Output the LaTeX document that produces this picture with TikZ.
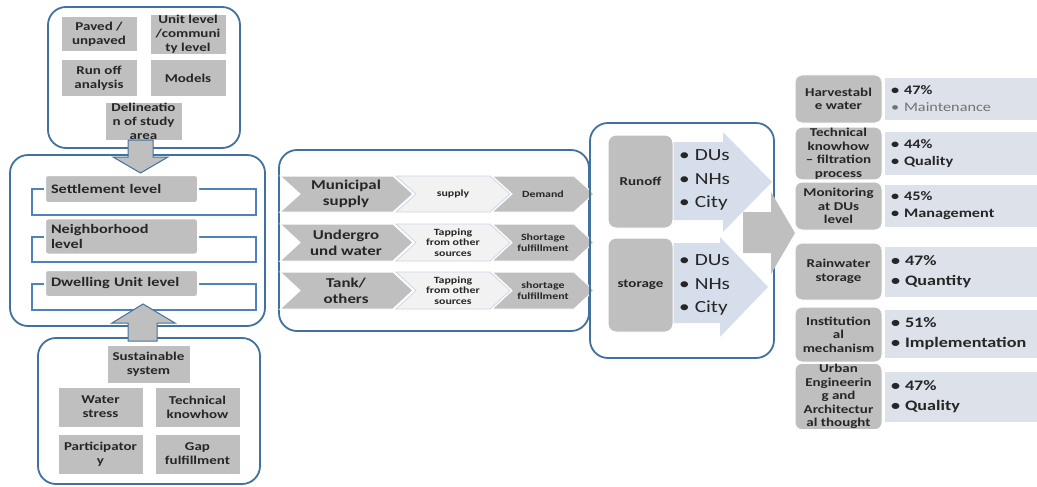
\documentclass[tikz,border=0pt]{standalone}
\usepackage{fontspec}
\setmainfont{Carlito}[FakeStretch=1.25]
\usetikzlibrary{positioning,calc}

\definecolor{frameblue}{RGB}{65,113,156}
\definecolor{lineblue}{RGB}{79,129,189}
\definecolor{boxgray}{RGB}{191,191,191}
\definecolor{chevpale}{RGB}{242,242,242}
\definecolor{chevedge}{RGB}{205,215,232}
\definecolor{flowblue}{RGB}{214,222,236}
\definecolor{notegray}{RGB}{220,225,234}
\definecolor{inkdark}{RGB}{38,38,38}

% chevron: left x, tip x, top y, bottom y, style
\newcommand{\chevron}[5]{%
  \filldraw[#5] (#1,#3) -- ({#2-20},#3) -- (#2,{(#3+#4)/2}) -- ({#2-20},#4)
    -- (#1,#4) -- ({#1+20},{(#3+#4)/2}) -- cycle;}
\newcommand{\bl}{\textbullet\hspace{5pt}}

\begin{document}
\begin{tikzpicture}[x=1pt, y=-1pt, text=inkdark,
  frame/.style={draw=frameblue, line width=1.8pt, rounded corners=18pt},
  sz/.style 2 args={minimum width=#1pt, minimum height=#2pt},
  gbox/.style={fill=boxgray, draw=white, line width=1pt, inner sep=1pt, align=center, font=\bfseries\fontsize{12}{14}\selectfont},
  lvl/.style={fill=boxgray, draw=white, line width=2pt, rounded corners=3pt, align=left, text width=141pt, inner sep=6pt, font=\bfseries\fontsize{13}{15}\selectfont},
  bracket/.style={draw=lineblue, line width=1.4pt},
  blockarrow/.style={fill=boxgray, draw=frameblue, line width=1pt},
  darkchev/.style={fill=boxgray, draw=white, line width=1pt},
  palechev/.style={fill=chevpale, draw=chevedge, line width=0.8pt},
  chevtxt/.style={align=center, inner sep=0pt, font=\bfseries\fontsize{13.5}{16}\selectfont},
  chevsmall/.style={align=center, inner sep=0pt, font=\bfseries\fontsize{9.5}{10.5}\selectfont},
  flowlist/.style={anchor=west, align=left, inner sep=0pt, font=\fontsize{17}{23.5}\selectfont},
  kind/.style={fill=boxgray, draw=white, line width=1pt, rounded corners=8pt, align=center, inner sep=1pt, font=\bfseries\fontsize{12}{14}\selectfont},
  topic/.style={fill=boxgray, draw=white, line width=1pt, rounded corners=7pt, align=center, inner sep=1pt, minimum width=87pt, font=\bfseries\fontsize{12}{13.5}\selectfont},
  note/.style={fill=notegray, align=left, text width=140pt, inner sep=6pt, minimum width=152pt},
  smallnote/.style={note, font=\bfseries\fontsize{13}{17}\selectfont},
  bignote/.style={note, font=\bfseries\fontsize{14.5}{20}\selectfont}]
\useasboundingbox (0,0) rectangle (1037,487);

% left column
\node[frame, sz={192}{141}] (areabox) at (144,77.5) {};
\node[gbox, sz={76}{35}] (paved) at (99,34.5) {Paved /\\unpaved};
\node[gbox, sz={76}{35}] (unitlvl) at (188,34.5) {Unit level\\/communi\\ty level};
\node[gbox, sz={76}{37}] (runan) at (99,78.5) {Run off\\analysis};
\node[gbox, sz={76}{37}] (models) at (188,78.5) {Models};
\node[gbox, sz={77}{37}] (delin) at (143.5,121.5) {Delineatio\\n of study\\area};

\node[frame, sz={255}{171}] (levelbox) at (137.5,240.5) {};
\draw[bracket] (32,189) rectangle (256,215);
\draw[bracket] (32,237) rectangle (256,262);
\draw[bracket] (32,284) rectangle (256,310);
\node[lvl, minimum height=28pt] (settle) at (121.5,189) {Settlement level};
\node[lvl, minimum height=27pt] (neigh) at (121.5,236.5) {Neighborhood\\level};
\node[lvl, minimum height=27pt] (dwell) at (121.5,283.5) {Dwelling Unit level};

\node[frame, sz={222}{146}] (sysbox) at (149,411) {};
\node[gbox, sz={83}{38}] (sustain) at (148.5,364) {Sustainable\\system};
\node[gbox, sz={85}{40}] (stress) at (100.5,407) {Water\\stress};
\node[gbox, sz={85}{40}] (knowhow) at (197.5,407) {Technical\\knowhow};
\node[gbox, sz={85}{40}] (partic) at (100.5,454) {Participator\\y};
\node[gbox, sz={85}{40}] (gapfill) at (197.5,454) {Gap\\fulfillment};

\filldraw[blockarrow] (128,140) -- (153,140) -- (153,157) -- (168,157) -- (140.5,173) -- (113,157) -- (128,157) -- cycle;
\filldraw[blockarrow] (128,341) -- (157,341) -- (157,323) -- (175,323) -- (143,304) -- (112,323) -- (128,323) -- cycle;

% sources
\node[frame, sz={310}{181}] (sourcebox) at (434,240.5) {};
\chevron{280}{413}{176}{212}{darkchev}
\chevron{396}{510}{176}{212}{palechev}
\chevron{492}{594}{176}{212}{darkchev}
\chevron{280}{413}{224}{261}{darkchev}
\chevron{396}{510}{224}{261}{palechev}
\chevron{492}{594}{224}{261}{darkchev}
\chevron{280}{413}{272}{309}{darkchev}
\chevron{396}{510}{272}{309}{palechev}
\chevron{492}{594}{272}{309}{darkchev}
\node[chevtxt] (municipal) at (346,194) {Municipal\\supply};
\node[chevsmall] (supply) at (453,194) {supply};
\node[chevsmall] (demand) at (543,194) {Demand};
\node[chevtxt] (ground) at (346,242.5) {Undergro\\und water};
\node[chevsmall] (tapone) at (453,242.5) {Tapping\\from other\\sources};
\node[chevsmall] (shortone) at (543,242.5) {Shortage\\fulfillment};
\node[chevtxt] (tank) at (346,290.5) {Tank/\\others};
\node[chevsmall] (taptwo) at (453,290.5) {Tapping\\from other\\sources};
\node[chevsmall] (shorttwo) at (543,290.5) {shortage\\fulfillment};

% runoff and storage
\node[frame, sz={184}{235}] (scalebox) at (682,240.5) {};
\node[kind, sz={65}{93}] (runoff) at (640.5,181.5) {Runoff};
\node[kind, sz={65}{94}] (storage) at (640.5,285) {storage};
\fill[flowblue] (runoff.east |- 0,142) -- (723,142) -- (723,132) -- (772,182) -- (723,232) -- (723,220) -- (runoff.east |- 0,220) -- cycle;
\fill[flowblue] (storage.east |- 0,243) -- (720,243) -- (720,237) -- (768,287) -- (720,337) -- (720,323) -- (storage.east |- 0,323) -- cycle;
\node[flowlist] (runlist) at (679,180) {\bl DUs\\\bl NHs\\\bl City};
\node[flowlist] (storelist) at (679,285) {\bl DUs\\\bl NHs\\\bl City};
\fill[boxgray] (743,212) -- (771,212) -- (771,192) -- (795,233) -- (771,274) -- (771,253) -- (743,253) -- cycle;

% findings
\node[topic, minimum height=48pt] (harvest) at (838.5,99) {Harvestabl\\e water};
\node[smallnote, minimum height=42pt] (harvestnote) at (961,99) {\bl 47\%\\{\mdseries\color{black!55}\bl Maintenance}};
\node[topic, minimum height=47pt] (filter) at (838.5,153.5) {Technical\\knowhow\\– filtration\\process};
\node[smallnote, minimum height=43pt] (filternote) at (961,153.5) {\bl 44\%\\\bl Quality};
\node[topic, minimum height=48pt] (monitor) at (838.5,206) {Monitoring\\at DUs\\level};
\node[smallnote, minimum height=42pt] (monitornote) at (961,206) {\bl 45\%\\\bl Management};
\node[topic, minimum height=57pt] (rainstore) at (838.5,271.5) {Rainwater\\storage};
\node[bignote, minimum height=50pt] (rainnote) at (961,272) {\bl 47\%\\\bl Quantity};
\node[topic, minimum height=55pt] (institute) at (838.5,334.5) {Institution\\al\\mechanism};
\node[bignote, minimum height=48pt] (institutenote) at (961,334) {\bl 51\%\\\bl Implementation};
\node[topic, minimum height=53pt] (urban) at (838.5,396.5) {Urban\\Engineerin\\g and\\Architectur\\al thought};
\node[bignote, minimum height=50pt] (urbannote) at (961,397) {\bl 47\%\\\bl Quality};
\end{tikzpicture}
\end{document}
